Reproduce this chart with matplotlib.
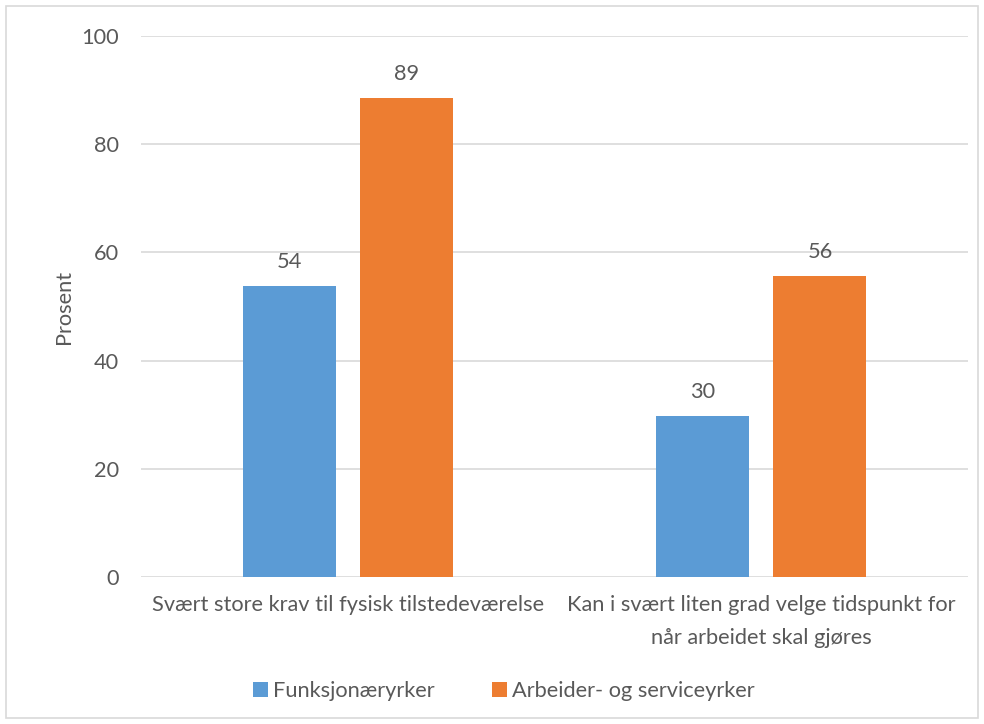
import matplotlib
matplotlib.use("Agg")
import matplotlib.pyplot as plt
import numpy as np
from matplotlib.patches import Rectangle

plt.rcParams["font.family"] = ["Lato", "DejaVu Sans"]

categories = [
    "Svært store krav til fysisk tilstedeværelse",
    "Kan i svært liten grad velge tidspunkt for\nnår arbeidet skal gjøres",
]
series_names = ["Funksjonæryrker", "Arbeider- og serviceyrker"]
funksjonaer = [53.8, 29.7]
arbeider = [88.6, 55.6]
yticks = [0, 20, 40, 60, 80, 100]

BLUE = "#5B9BD5"
ORANGE = "#ED7D31"
TEXT = "#595959"
GRID = "#D9D9D9"
FS = 15.7

fig = plt.figure(figsize=(9.84, 7.24), dpi=100)
ax = fig.add_axes([0.1433, 0.2030, 0.8404, 0.7473])

x = np.arange(len(categories))
width = 0.225
offset = 0.142

for vals, dx, color, name in [
    (funksjonaer, -offset, BLUE, series_names[0]),
    (arbeider, offset, ORANGE, series_names[1]),
]:
    bars = ax.bar(x + dx, vals, width, color=color, label=name, zorder=3)
    for b, v in zip(bars, vals):
        ax.annotate(f"{v:.0f}", xy=(b.get_x() + b.get_width() / 2, v),
                    xytext=(0, 10), textcoords="offset points",
                    ha="center", va="bottom", fontsize=FS, color=TEXT)

ax.set_xlim(-0.5, 1.5)
ax.set_ylim(0, 100)
ax.set_yticks(yticks)
ax.set_xticks(x)
ax.set_xticklabels(categories, fontsize=FS, color=TEXT, linespacing=1.8)
ax.tick_params(axis="both", length=0, labelsize=FS, labelcolor=TEXT)
ax.tick_params(axis="x", pad=13)
ax.tick_params(axis="y", pad=16)
ax.grid(axis="y", color=GRID, linewidth=1.2, zorder=0)
for name, spine in ax.spines.items():
    spine.set_visible(False)
ax.set_ylabel("Prosent", fontsize=FS, color=TEXT, labelpad=5)

leg = fig.legend(loc="center", bbox_to_anchor=(0.512, 0.045), ncol=2,
                 frameon=False, fontsize=FS, handlelength=0.7,
                 handleheight=0.7, handletextpad=0.25, columnspacing=2.6)
for t in leg.get_texts():
    t.set_color(TEXT)

# chart area border
fig.patches.append(Rectangle((6 / 984, 6 / 724), 972 / 984, 712 / 724,
                             transform=fig.transFigure, fill=False,
                             edgecolor=GRID, linewidth=1.2))

fig.savefig("out.png", dpi=100)
